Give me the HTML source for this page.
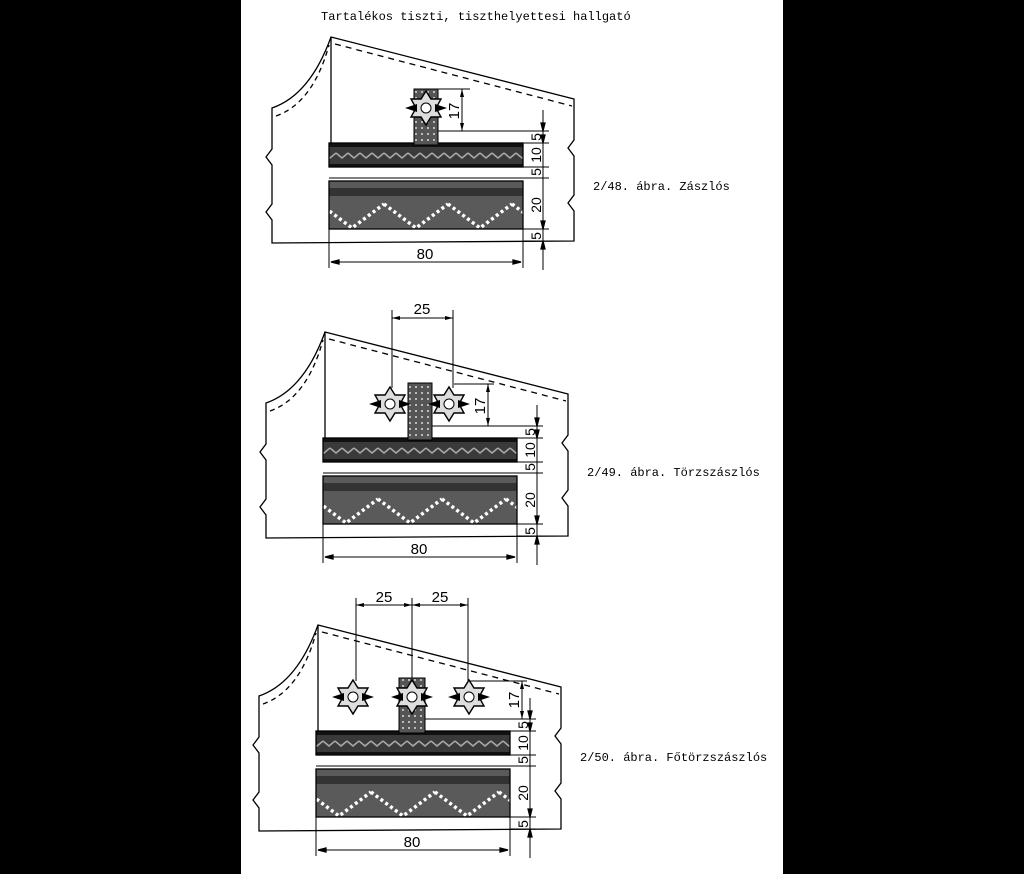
<!DOCTYPE html>
<html><head><meta charset="utf-8"><style>
html,body{margin:0;padding:0;background:#000}
svg{display:block}
text{font-family:"Liberation Sans",sans-serif}
.m{font-family:"Liberation Mono",monospace;font-size:12px}
</style></head><body>
<svg width="1024" height="874" viewBox="0 0 1024 874" xmlns="http://www.w3.org/2000/svg">
<defs>
<pattern id="p1" width="12" height="24" patternUnits="userSpaceOnUse">
<rect width="12" height="24" fill="#3a3a3a"/>
<path d="M0,9 L6,14 L12,9" stroke="#aaa" stroke-width="1.5" fill="none"/>
<rect y="0" width="12" height="3" fill="#111"/><rect y="20" width="12" height="4" fill="#111"/>
</pattern>
<pattern id="p2" width="64" height="48" patternUnits="userSpaceOnUse">
<rect width="64" height="48" fill="#5a5a5a"/>
<path d="M0,12 L32,36 L64,12" stroke="#fff" stroke-width="3.5" stroke-dasharray="3,3" fill="none"/>
<rect width="64" height="4" fill="#333"/><rect y="44" width="64" height="4" fill="#333"/>
</pattern>
<pattern id="p3" width="6" height="6" patternUnits="userSpaceOnUse">
<rect width="6" height="6" fill="#555"/><rect x="1" y="1" width="2" height="2" fill="#bbb"/>
</pattern>
<g id="star">
<polygon points="0,-17 5,-9 15,-9 10,0 15,9 5,9 0,17 -5,9 -15,9 -10,0 -15,-9 -5,-9" fill="#ddd" stroke="#000" stroke-width="1.4"/>
<polygon points="-9,-4 -21,0 -9,4" fill="#000"/><polygon points="9,-4 21,0 9,4" fill="#000"/>
<circle r="5" fill="#fff" stroke="#000"/>
</g>
<g id="base" fill="none" stroke="#000" stroke-width="1.3">
<path d="M272,243 L272,220 l-6,-8 l6,-8 L272,165 l-6,-8 l6,-8 L272,108 Q310,95 331,37 L574,99 L574,140 l-6,8 l6,8 L574,195 l-6,8 l6,8 L574,241 Z" fill="#fff"/>
<path d="M276,116 Q313,103 329,45" stroke-dasharray="5,4"/>
<path d="M335,44 L572,106" stroke-dasharray="6,5"/>
<line x1="331" y1="37" x2="331" y2="143"/>
<rect x="329" y="143" width="194" height="24" fill="url(#p1)"/>
<rect x="329" y="181" width="194" height="48" fill="url(#p2)"/>
<line x1="329" y1="229" x2="329" y2="268" stroke-width="1"/>
<line x1="523" y1="229" x2="523" y2="268" stroke-width="1"/>
<line x1="523" y1="143" x2="549" y2="143" stroke-width="1"/>
<line x1="523" y1="167" x2="549" y2="167" stroke-width="1"/>
<line x1="329" y1="178" x2="549" y2="178" stroke-width="1"/>
<line x1="523" y1="229" x2="549" y2="229" stroke-width="1"/>
<line x1="523" y1="241" x2="549" y2="241" stroke-width="1"/>
<line x1="543" y1="110" x2="543" y2="270" stroke-width="1"/>
<line x1="331" y1="262" x2="521" y2="262" stroke-width="1"/>
<polygon points="331,262 339,260 339,264" fill="#000"/><polygon points="521,262 513,260 513,264" fill="#000"/>
<polygon points="543,131 541,123 545,123" fill="#000"/><polygon points="543,143 541,135 545,135" fill="#000"/>
<polygon points="543,229 541,221 545,221" fill="#000"/><polygon points="543,241 541,249 545,249" fill="#000"/>
<line x1="438" y1="131" x2="549" y2="131" stroke-width="1"/>
</g>
</defs>
<rect x="241" y="0" width="542" height="874" fill="#fff"/>
<text class="m" x="321" y="20">Tartalékos tiszti, tiszthelyettesi hallgató</text>

<!-- Diagram 1 -->
<g>
<use href="#base"/>
<rect x="414" y="89" width="24" height="56" fill="url(#p3)" stroke="#000"/>
<use href="#star" x="426" y="108"/>
<g stroke="#000" stroke-width="1" fill="none"><line x1="438" y1="89" x2="470" y2="89"/><line x1="462" y1="89" x2="462" y2="131"/></g>
<polygon points="462,89 460,97 464,97"/><polygon points="462,131 460,123 464,123"/>
<text transform="translate(462,111) rotate(-90)" text-anchor="middle" font-size="15" dy="-3">17</text>
<g font-size="14" text-anchor="middle">
<text transform="translate(541,137) rotate(-90)">5</text><text transform="translate(541,155) rotate(-90)">10</text><text transform="translate(541,172) rotate(-90)">5</text><text transform="translate(541,205) rotate(-90)">20</text><text transform="translate(541,236) rotate(-90)">5</text>
<text x="425" y="259" font-size="15">80</text></g>
<text class="m" x="593" y="190">2/48. ábra. Zászlós</text>
</g>

<!-- Diagram 2 -->
<g transform="translate(-6,295)">
<use href="#base"/>
<rect x="414" y="88" width="24" height="57" fill="url(#p3)" stroke="#000"/>
<use href="#star" x="396" y="109"/><use href="#star" x="455" y="109"/>
<g stroke="#000" stroke-width="1" fill="none"><line x1="398" y1="15" x2="398" y2="93"/><line x1="459" y1="15" x2="459" y2="93"/><line x1="398" y1="23" x2="459" y2="23"/><line x1="460" y1="89" x2="500" y2="89"/><line x1="494" y1="89" x2="494" y2="131"/></g>
<polygon points="494,89 492,97 496,97"/><polygon points="494,131 492,123 496,123"/>
<polygon points="398,23 406,21 406,25"/><polygon points="459,23 451,21 451,25"/>
<text x="428" y="19" font-size="15" text-anchor="middle">25</text>
<text transform="translate(494,111) rotate(-90)" text-anchor="middle" font-size="15" dy="-3">17</text>
<g font-size="14" text-anchor="middle">
<text transform="translate(541,137) rotate(-90)">5</text><text transform="translate(541,155) rotate(-90)">10</text><text transform="translate(541,172) rotate(-90)">5</text><text transform="translate(541,205) rotate(-90)">20</text><text transform="translate(541,236) rotate(-90)">5</text>
<text x="425" y="259" font-size="15">80</text></g>
<text class="m" x="593" y="181">2/49. ábra. Törzszászlós</text>
</g>

<!-- Diagram 3 -->
<g transform="translate(-13,588)">
<use href="#base"/>
<rect x="412" y="90" width="26" height="55" fill="url(#p3)" stroke="#000"/>
<use href="#star" x="366" y="109"/><use href="#star" x="425" y="109"/><use href="#star" x="482" y="109"/>
<g stroke="#000" stroke-width="1" fill="none"><line x1="369" y1="10" x2="369" y2="93"/><line x1="425" y1="10" x2="425" y2="90"/><line x1="481" y1="10" x2="481" y2="93"/><line x1="369" y1="17" x2="481" y2="17"/><line x1="482" y1="93" x2="540" y2="93"/><line x1="535" y1="93" x2="535" y2="131"/></g>
<polygon points="535,93 533,101 537,101"/><polygon points="535,131 533,123 537,123"/>
<polygon points="369,17 377,15 377,19"/><polygon points="425,17 417,15 417,19"/><polygon points="425,17 433,15 433,19"/><polygon points="481,17 473,15 473,19"/>
<text x="397" y="14" font-size="15" text-anchor="middle">25</text><text x="453" y="14" font-size="15" text-anchor="middle">25</text>
<text transform="translate(535,112) rotate(-90)" text-anchor="middle" font-size="15" dy="-3">17</text>
<g font-size="14" text-anchor="middle">
<text transform="translate(541,137) rotate(-90)">5</text><text transform="translate(541,155) rotate(-90)">10</text><text transform="translate(541,172) rotate(-90)">5</text><text transform="translate(541,205) rotate(-90)">20</text><text transform="translate(541,236) rotate(-90)">5</text>
<text x="425" y="259" font-size="15">80</text></g>
<text class="m" x="593" y="173">2/50. ábra. Főtörzszászlós</text>
</g>
</svg>
</body></html>
